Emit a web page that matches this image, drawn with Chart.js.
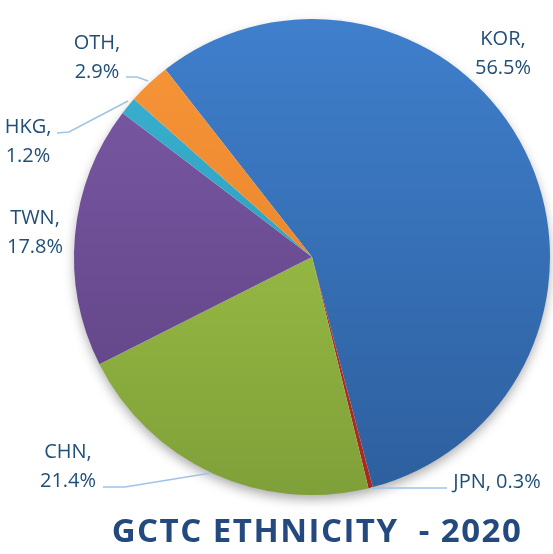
<!DOCTYPE html>
<html>
<head>
<meta charset="utf-8">
<script src="https://cdn.jsdelivr.net/npm/chart.js@4"></script>
<style>
  html, body { margin: 0; padding: 0; background: #fff; }
  #wrap { width: 553px; height: 554px; position: relative; }
</style>
</head>
<body>
<div id="wrap"><canvas id="myChart"></canvas></div>
<script>
const labels = ["KOR", "JPN", "CHN", "TWN", "HKG", "OTH"];
const shares = [56.5, 0.3, 21.4, 17.8, 1.2, 2.9];
const topColors = ["#3F7FCC", "#C0392B", "#A8CE4E", "#7D5BA8", "#3AB2D2", "#F8963A"];
const bottomColors = ["#2D5F9E", "#A52A22", "#7FA038", "#5C4080", "#2A93B0", "#E07A20"];

// label text anchors (center of each line) and leader lines
const labelPos = [
  { x: 503, y: 39, lines: ["KOR,", "56.5%"] },
  { x: 497, y: 482, lines: ["JPN, 0.3%"], leader: [[447, 488], [371, 488]] },
  { x: 68, y: 452, lines: ["CHN,", "21.4%"], leader: [[103, 487], [125, 487], [211, 473]] },
  { x: 35, y: 218, lines: ["TWN,", "17.8%"] },
  { x: 28, y: 127, lines: ["HKG,", "1.2%"], leader: [[57, 133], [69, 132], [128, 101]] },
  { x: 97, y: 43, lines: ["OTH,", "2.9%"], leader: [[126, 77], [137, 77], [148, 81]] },
];

function grad(ctx, area, i) {
  if (!area) return topColors[i];
  const g = ctx.createLinearGradient(0, area.top, 0, area.bottom);
  g.addColorStop(0, topColors[i]);
  g.addColorStop(1, bottomColors[i]);
  return g;
}

const shadowPlugin = {
  id: "shadow",
  beforeDatasetsDraw(chart) {
    const arc = chart.getDatasetMeta(0).data[0];
    if (!arc) return;
    const ctx = chart.ctx;
    ctx.save();
    ctx.shadowColor = "rgba(0,0,0,0.35)";
    ctx.shadowBlur = 12;
    ctx.shadowOffsetY = 5;
    ctx.fillStyle = "#fff";
    ctx.beginPath();
    ctx.arc(arc.x, arc.y, arc.outerRadius - 1, 0, Math.PI * 2);
    ctx.fill();
    ctx.restore();
  },
};

const labelPlugin = {
  id: "labels",
  afterDraw(chart) {
    const ctx = chart.ctx;
    ctx.save();
    ctx.strokeStyle = "#9DC3E6";
    ctx.lineWidth = 1.5;
    labelPos.forEach((p) => {
      if (!p.leader) return;
      ctx.beginPath();
      p.leader.forEach(([x, y], k) => (k ? ctx.lineTo(x, y) : ctx.moveTo(x, y)));
      ctx.stroke();
    });
    ctx.fillStyle = "#1F4E79";
    ctx.font = "20px 'Open Sans'";
    ctx.textAlign = "center";
    ctx.textBaseline = "middle";
    labelPos.forEach((p) => {
      p.lines.forEach((t, k) => ctx.fillText(t, p.x, p.y + k * 29));
    });
    ctx.font = "bold 33px 'Open Sans'";
    ctx.letterSpacing = "1.5px";
    ctx.fillStyle = "#24497E";
    ctx.fillText("GCTC ETHNICITY  - 2020", 317, 533);
    ctx.restore();
  },
};

new Chart(document.getElementById("myChart"), {
  type: "pie",
  data: {
    labels: labels,
    datasets: [
      {
        data: shares,
        borderWidth: 0,
        backgroundColor: (c) => grad(c.chart.ctx, c.chart.chartArea, c.dataIndex),
      },
    ],
  },
  options: {
    responsive: true,
    maintainAspectRatio: false,
    animation: false,
    rotation: -38,
    layout: { padding: { left: 74, right: 3, top: 19, bottom: 59 } },
    plugins: {
      legend: { display: false },
      tooltip: { enabled: false },
    },
  },
  plugins: [shadowPlugin, labelPlugin],
});
</script>
</body>
</html>
